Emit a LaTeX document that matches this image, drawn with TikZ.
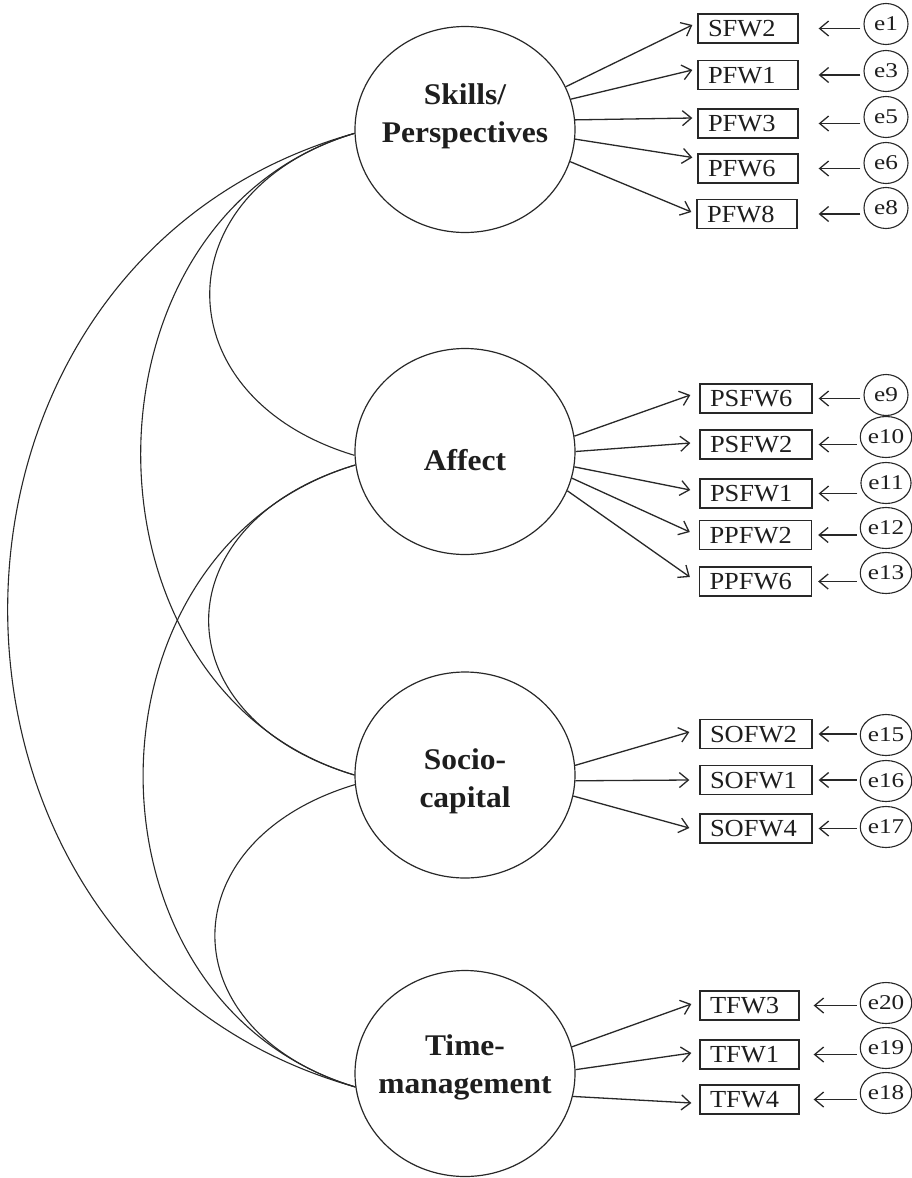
\documentclass[tikz,border=0pt]{standalone}
\usepackage{fontspec}
\setmainfont{Liberation Serif}
\newfontfamily\latfont[FakeStretch=1.05]{Liberation Serif}
\newfontfamily\boxfont[FakeStretch=1.08]{Liberation Serif}
\newfontfamily\efont[FakeStretch=1.2]{Liberation Serif}
\usetikzlibrary{arrows.meta,shapes.geometric}
\definecolor{lc}{RGB}{40,40,40}
\definecolor{tc}{RGB}{30,30,30}
\begin{document}
\begin{tikzpicture}[x=1pt,y=1pt,
  lat/.style={draw=lc, line width=1.2pt, ellipse, minimum width=220pt, minimum height=206pt, inner sep=0pt},
  lattext/.style={align=center, inner sep=0pt, text=tc, font=\latfont\bfseries\fontsize{30}{38}\selectfont},
  ind/.style={draw=lc, line width=1.3pt, rectangle, minimum height=29pt, inner ysep=0pt, inner xsep=10pt,
    text width=#1, align=left, text=tc, font=\boxfont\fontsize{24.5}{28}\selectfont, text height=16.5pt, text depth=0pt},
  err/.style={draw=lc, line width=1.1pt, ellipse, minimum width=44pt, minimum height=41pt, inner sep=0pt,
    text=tc, font=\efont\fontsize{21}{24}\selectfont},
  load/.style={draw=lc, line width=1.3pt, -{Straight Barb[length=9pt,width=15pt]}},
  earr/.style={draw=lc, line width=1.3pt, -{Straight Barb[length=9pt,width=15pt]}, shorten <=3pt, shorten >=#1},
  cov/.style={draw=lc, line width=1.1pt}
]
\fill[white] (0,0) rectangle (912,-1178);
\useasboundingbox (0,0) rectangle (912,-1178);

% latent variables
\node[lat] (sk) at (465,-129.5) {};
\node[lat] (af) at (465,-451.5) {};
\node[lat] (so) at (465,-775) {};
\node[lat] (ti) at (465,-1073.5) {};
\node[lattext] (skT) at (465,-116.75) {Skills/\\Perspectives};
\node[lattext, anchor=base] (afT) at (465,-470) {Affect};
\node[lattext] (soT) at (465,-781.75) {Socio-\\capital};
\node[lattext] (tiT) at (465,-1067) {Time-\\management};

% indicators: Skills/Perspectives
\node[ind=80pt] (b1) at (748,-28.5) {SFW2};
\node[ind=80pt] (b2) at (748,-75) {PFW1};
\node[ind=80pt] (b3) at (748,-123.5) {PFW3};
\node[ind=80pt] (b4) at (748,-168.5) {PFW6};
\node[ind=80pt] (b5) at (747,-214) {PFW8};
% Affect
\node[ind=92pt] (b6) at (756,-398.5) {PSFW6};
\node[ind=92pt] (b7) at (756,-444.5) {PSFW2};
\node[ind=92pt] (b8) at (756,-493.5) {PSFW1};
\node[ind=92pt] (b9) at (755.5,-535) {PPFW2};
\node[ind=92pt] (b10) at (755.5,-581.5) {PPFW6};
% Socio-capital
\node[ind=92pt] (b11) at (756,-734) {SOFW2};
\node[ind=92pt] (b12) at (756,-780) {SOFW1};
\node[ind=92pt] (b13) at (756,-828.5) {SOFW4};
% Time-management
\node[ind=79pt] (b14) at (749.5,-1005.5) {TFW3};
\node[ind=79pt] (b15) at (749.5,-1054.5) {TFW1};
\node[ind=79pt] (b16) at (749.5,-1099.5) {TFW4};

% error terms
\node[err] (e1) at (886,-24) {e1};
\node[err] (e3) at (886,-71) {e3};
\node[err] (e5) at (886,-117) {e5};
\node[err] (e6) at (886,-163) {e6};
\node[err] (e8) at (886,-208) {e8};
\node[err] (e9) at (886,-395) {e9};
\node[err] (e10) at (886,-437) {e10};
\node[err] (e11) at (886,-483) {e11};
\node[err] (e12) at (886,-528) {e12};
\node[err] (e13) at (886,-573) {e13};
\node[err] (e15) at (886,-735) {e15};
\node[err] (e16) at (886,-781) {e16};
\node[err] (e17) at (886,-827) {e17};
\node[err] (e20) at (886,-1003) {e20};
\node[err] (e19) at (886,-1048) {e19};
\node[err] (e18) at (886,-1093) {e18};

% loadings
\draw[load] (sk.23)  -- ([xshift=-5pt,yshift=3.5pt]b1.west);
\draw[load] (sk.16)  -- ([xshift=-5pt,yshift=5pt]b2.west);
\draw[load] (sk.5)   -- ([xshift=-5pt,yshift=5.5pt]b3.west);
\draw[load] (sk.-5)  -- ([xshift=-5pt,yshift=11pt]b4.west);
\draw[load] (sk.-17) -- ([xshift=-5pt,yshift=2pt]b5.west);

\draw[load] (af.8)   -- ([xshift=-9pt,yshift=3.5pt]b6.west);
\draw[load] (af.0)   -- ([xshift=-9pt,yshift=1.5pt]b7.west);
\draw[load] (af.-8)  -- ([xshift=-9pt,yshift=3.5pt]b8.west);
\draw[load] (af.-14) -- ([xshift=-9pt,yshift=3pt]b9.west);
\draw[load] (af.-21) -- ([xshift=-9pt,yshift=4.5pt]b10.west);

\draw[load] (so.5)   -- ([xshift=-10pt,yshift=2pt]b11.west);
\draw[load] (so.-3)  -- ([xshift=-10pt]b12.west);
\draw[load] (so.-11) -- ([xshift=-10pt,yshift=0.5pt]b13.west);

\draw[load] (ti.14)  -- ([xshift=-8pt,yshift=1.5pt]b14.west);
\draw[load] (ti.2)   -- ([xshift=-8pt,yshift=1.5pt]b15.west);
\draw[load] (ti.-12) -- ([xshift=-8pt,yshift=-3.5pt]b16.west);

% error arrows
\draw[earr=20pt] (e1.west |- b1.east) -- (b1.east);
\draw[earr=20pt] (e3.west |- b2.east) -- (b2.east);
\draw[earr=20pt] (e5.west |- b3.east) -- (b3.east);
\draw[earr=20pt] (e6.west |- b4.east) -- (b4.east);
\draw[earr=21pt] (e8.west |- b5.east) -- (b5.east);
\draw[earr=6pt] (e9.west |- b6.east) -- (b6.east);
\draw[earr=6pt] (e10.west |- b7.east) -- (b7.east);
\draw[earr=6pt] (e11.west |- b8.east) -- (b8.east);
\draw[earr=6pt] (e12.west |- b9.east) -- (b9.east);
\draw[earr=6pt] (e13.west |- b10.east) -- (b10.east);
\draw[earr=6pt] (e15.west |- b11.east) -- (b11.east);
\draw[earr=6pt] (e16.west |- b12.east) -- (b12.east);
\draw[earr=6pt] (e17.west |- b13.east) -- (b13.east);
\draw[earr=14pt] (e20.west |- b14.east) -- (b14.east);
\draw[earr=14pt] (e19.west |- b15.east) -- (b15.east);
\draw[earr=14pt] (e18.west |- b16.east) -- (b16.east);

% covariances
\draw[cov] (sk.182) .. controls +(-193,-58) and +(-193,58) .. (af.182);
\draw[cov] (sk.182) .. controls +(-285,-85) and +(-285,85) .. (so.180);
\draw[cov] (sk.182) .. controls +(-463,-130) and +(-463,130) .. (ti.187);
\draw[cov] (af.187) .. controls +(-195,-58) and +(-195,58) .. (so.180);
\draw[cov] (af.187) .. controls +(-283,-85) and +(-283,85) .. (ti.187);
\draw[cov] (so.185) .. controls +(-187,-56) and +(-187,56) .. (ti.187);
\end{tikzpicture}
\end{document}
